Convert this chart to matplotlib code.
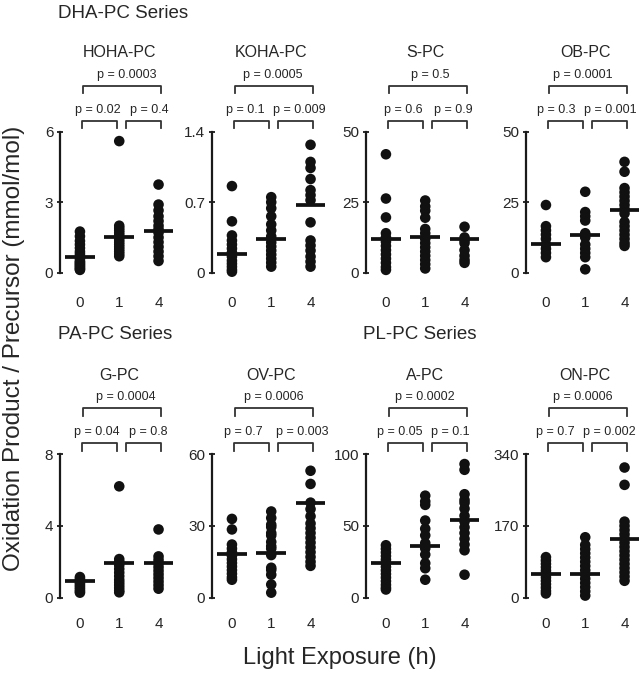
import numpy as np
import matplotlib
matplotlib.use("Agg")
import matplotlib.pyplot as plt
import matplotlib.transforms as mtransforms

plt.rcParams['font.family'] = ['Liberation Sans', 'DejaVu Sans']
TXT = '#262626'

# categories (light exposure, h)
cats = ['0', '1', '4']

# panel names and y axis maxima
names = ['HOHA-PC', 'KOHA-PC', 'S-PC', 'OB-PC', 'G-PC', 'OV-PC', 'A-PC', 'ON-PC']
ymax = [6, 1.4, 50, 50, 8, 60, 100, 340]
yticks = [[0, 3, 6], [0, 0.7, 1.4], [0, 25, 50], [0, 25, 50],
          [0, 4, 8], [0, 30, 60], [0, 50, 100], [0, 170, 340]]

# individual values per panel, per time point
hoha = [[1.75, 1.55, 1.35, 1.2, 1.05, 0.9, 0.8, 0.7, 0.6, 0.5, 0.45, 0.4, 0.35, 0.3, 0.25, 0.2, 0.15, 0.12],
        [5.6, 2.0, 1.9, 1.8, 1.7, 1.6, 1.5, 1.4, 1.3, 1.2, 1.1, 1.0, 0.9, 0.8, 0.7],
        [3.75, 2.9, 2.65, 2.4, 2.2, 2.0, 1.85, 1.7, 1.5, 1.3, 1.1, 0.9, 0.7, 0.5]]
koha = [[0.86, 0.51, 0.37, 0.32, 0.28, 0.24, 0.2, 0.16, 0.12, 0.09, 0.06, 0.03, 0.01],
        [0.75, 0.7, 0.64, 0.56, 0.48, 0.42, 0.36, 0.3, 0.26, 0.22, 0.18, 0.14, 0.1, 0.06],
        [1.27, 1.1, 1.04, 0.93, 0.82, 0.77, 0.72, 0.5, 0.32, 0.27, 0.22, 0.16, 0.11, 0.06]]
spc = [[42, 26.3, 19.6, 14, 12.5, 11, 9.5, 8, 6.5, 5, 3.5, 2, 1],
       [25.6, 23.5, 22, 19.5, 15.5, 14, 12, 10.5, 9, 7.5, 6, 4.5, 3, 1.5],
       [16.3, 12.5, 11.5, 10.5, 8, 6, 4.5, 3.5]]
obpc = [[24, 16.5, 15, 13.5, 12, 10, 8.5, 7, 5.5],
        [28.7, 21.5, 20, 18.5, 14, 12.5, 10, 8.5, 7, 5.5, 1.2],
        [39.3, 35.8, 30, 28.5, 27, 25.5, 24, 22.5, 21, 18, 16.5, 15, 13.5, 12, 10.5, 9.5]]
gpc = [[1.15, 1.05, 0.95, 0.85, 0.75, 0.65, 0.55, 0.45, 0.35, 0.28],
       [6.2, 2.15, 2.0, 1.8, 1.6, 1.4, 1.2, 1.0, 0.85, 0.7, 0.55, 0.4, 0.3],
       [3.8, 2.3, 2.1, 1.9, 1.7, 1.5, 1.3, 1.1, 0.9, 0.7, 0.5]]
ovpc = [[32.9, 28.5, 22.2, 20.5, 19, 17.5, 16, 14.5, 13, 11.5, 10, 8.5, 7.5],
        [36, 33.3, 30.5, 29.5, 27, 26, 23.3, 21.5, 20.5, 17.8, 12.5, 11.6, 9.6, 5.5, 2.1],
        [53, 47.5, 39.7, 37, 34, 31, 29, 27, 25, 23, 21, 19, 17, 15, 13.3]]
apc = [[36.5, 34, 31.5, 29, 26.5, 24, 21.5, 19, 16.5, 14, 11.5, 9, 7, 5.7],
       [71, 67, 64.6, 53.7, 48, 43.4, 38, 34.3, 30, 24, 20.5, 12.5],
       [93, 89, 72, 68, 66, 62, 57, 53, 49, 45, 41, 37, 33, 16]]
onpc = [[96, 88, 80, 72, 64, 56, 48, 40, 32, 24, 16, 10],
        [143, 125, 115, 105, 95, 85, 75, 65, 55, 45, 35, 25, 15, 5],
        [308, 267, 180, 170, 160, 150, 140, 130, 120, 110, 100, 90, 80, 70, 60, 50, 40]]
values = [hoha, koha, spc, obpc, gpc, ovpc, apc, onpc]

# group means (horizontal bars)
means = [[0.68, 1.53, 1.78], [0.19, 0.33, 0.67], [11.8, 12.8, 11.8], [10.3, 13.2, 22.3],
         [0.95, 1.92, 1.92], [18.1, 18.5, 39.7], [24, 36, 54], [56, 56, 139]]

# p values: 0 vs 1, 1 vs 4, 0 vs 4
p01 = ['0.02', '0.1', '0.6', '0.3', '0.04', '0.7', '0.05', '0.7']
p14 = ['0.4', '0.009', '0.9', '0.001', '0.8', '0.003', '0.1', '0.002']
p04 = ['0.0003', '0.0005', '0.5', '0.0001', '0.0004', '0.0006', '0.0002', '0.0006']

# where each p label sits (x in category units)
p01_x = [0.46, 0.33, 0.44, 0.25, 0.42, 0.28, 0.35, 0.24]
p14_x = [1.77, 1.71, 1.72, 1.64, 1.74, 1.78, 1.65, 1.62]
p04_x = [1.19, 1.03, 1.14, 0.95, 1.17, 1.07, 0.99, 0.94]

series = [('DHA-PC Series', 58, 14), ('PA-PC Series', 58, 335), ('PL-PC Series', 363, 335)]

W, H = 643, 675
fig = plt.figure(figsize=(W / 100, H / 100), dpi=100)

lefts = [59.5, 211.5, 365.5, 525.5]
rows = [(272.7, 131.7), (597.7, 454)]  # (zero px, top px)
unit = 39.3
xlo, xhi = -0.52, 2.5

for i, name in enumerate(names):
    r, c = divmod(i, 4)
    zero, top = rows[r]
    hpx = zero - top
    wpx = (xhi - xlo) * unit
    ax = fig.add_axes([lefts[c] / W, (H - zero) / H, wpx / W, hpx / H])
    ax.set_xlim(xlo, xhi)
    ax.set_ylim(0, ymax[i])
    for s in ['top', 'right', 'bottom']:
        ax.spines[s].set_visible(False)
    ax.spines['left'].set_linewidth(1.6)
    ax.spines['left'].set_color('#1a1a1a')
    ax.set_yticks(yticks[i])
    ax.set_yticklabels([f'{t:g}' for t in yticks[i]])
    ax.tick_params(axis='y', direction='inout', length=5, width=1.3, pad=2,
                   labelsize=11, labelcolor=TXT, color='#1a1a1a')
    ax.set_xticks(range(3))
    ax.set_xticklabels(cats)
    ax.tick_params(axis='x', length=0, pad=17 if r == 0 else 14, labelsize=11, labelcolor=TXT)

    for k in range(3):
        v = values[i][k]
        ax.scatter(np.full(len(v), k), v, s=58, color='#111111', edgecolors='none',
                   zorder=3, clip_on=False)
        ax.plot([k - 0.38, k + 0.38], [means[i][k]] * 2, color='#111111', lw=2.7,
                solid_capstyle='butt', zorder=4, clip_on=False)

    # brackets above the axes, offsets in px
    tr = mtransforms.blended_transform_factory(ax.transData, ax.transAxes)
    def fy(px):
        return 1 + px / hpx
    b1, b2, t1, t2, ttl = 11, 46, 21.5, 57, 79
    tick = 7.5
    for (x0, x1, lab, xt, yb, yt) in [(0.05, 0.95, p01[i], p01_x[i], b1, t1),
                                      (1.17, 2.07, p14[i], p14_x[i], b1, t1),
                                      (0.07, 2.07, p04[i], p04_x[i], b2, t2)]:
        ax.plot([x0, x0, x1, x1], [fy(yb - tick), fy(yb), fy(yb), fy(yb - tick)],
                color='#333333', lw=1.3, transform=tr, clip_on=False)
        ax.text(xt, fy(yt), 'p = ' + lab, transform=tr,
                ha='center', va='center', fontsize=9, color=TXT)
    ax.text(1, fy(ttl), name, transform=tr, ha='center', va='center',
            fontsize=11.5, color=TXT)

for lab, x, y in series:
    fig.text(x / W, 1 - y / H, lab, ha='left', va='center', fontsize=13.5, color=TXT)

fig.text(0.021, 0.484, 'Oxidation Product / Precursor (mmol/mol)', rotation=90,
         ha='center', va='center', fontsize=17.5, color=TXT)
fig.text(0.528, 1 - 658 / H, 'Light Exposure (h)', ha='center', va='center',
         fontsize=17, color=TXT)

fig.savefig('out.png', dpi=100)
